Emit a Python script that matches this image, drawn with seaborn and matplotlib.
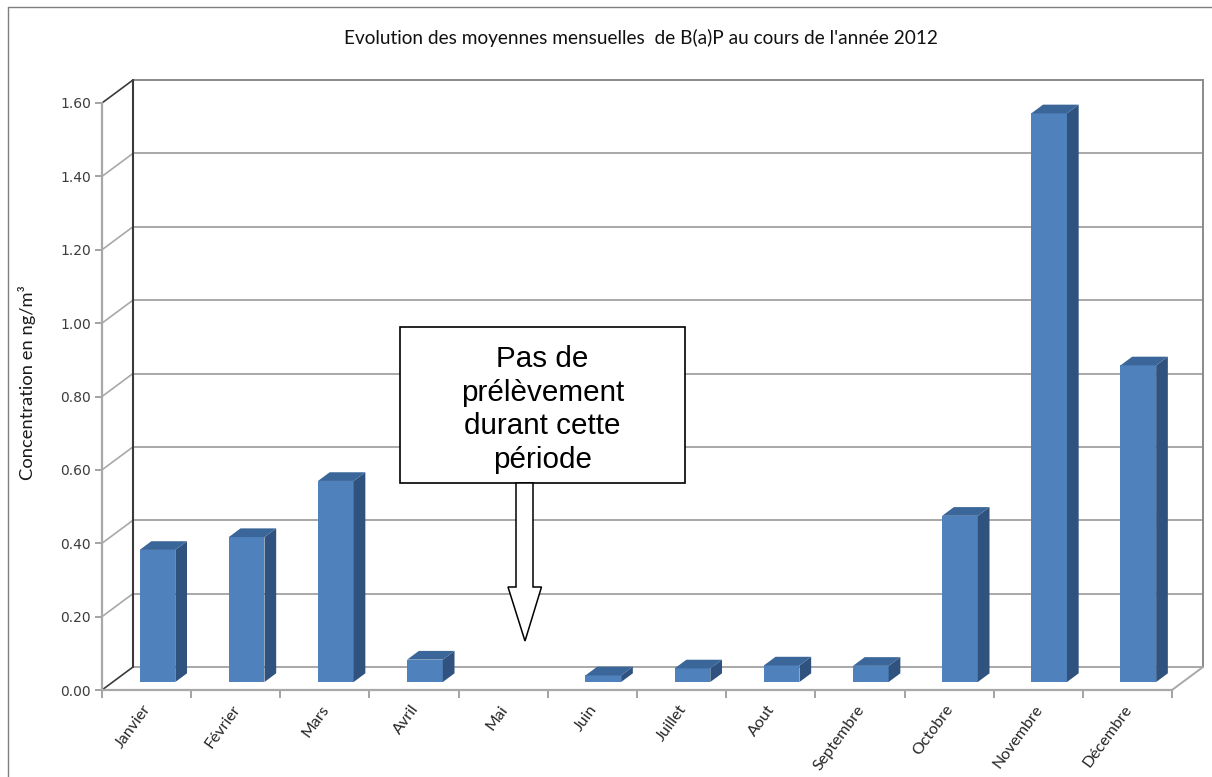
import numpy as np
import pandas as pd
import matplotlib
matplotlib.use("Agg")
import matplotlib.pyplot as plt
import matplotlib.transforms as mtrans
from matplotlib.patches import Polygon, Rectangle
import seaborn as sns

# ---------------- data ----------------
months = ["Janvier", "Février", "Mars", "Avril", "Mai", "Juin", "Juillet",
          "Aout", "Septembre", "Octobre", "Novembre", "Décembre"]
values = [0.36, 0.395, 0.548, 0.061, np.nan, 0.018, 0.037,
          0.045, 0.044, 0.453, 1.55, 0.863]
yticks = [0.0, 0.2, 0.4, 0.6, 0.8, 1.0, 1.2, 1.4, 1.6]
ytick_labels = ["0.00", "0.20", "0.40", "0.60", "0.80", "1.00", "1.20", "1.40", "1.60"]
title = "Evolution des moyennes mensuelles  de B(a)P au cours de l'année 2012"
ylabel = "Concentration en ng/m³"
note = "Pas de\nprélèvement\ndurant cette\npériode"

df = pd.DataFrame({"mois": months, "val": values}).dropna()

# ---------------- figure ----------------
sns.set_theme(style="white")
plt.rcParams["font.family"] = ["Lato", "DejaVu Sans"]

W, H, DPI = 1212, 777, 100
fig = plt.figure(figsize=(W / DPI, H / DPI), dpi=DPI)
fig.patch.set_facecolor("white")

# front plane of the 3D box: x -0.5..11.5 -> px 102..1172 ; y 0..1.6 -> px 690..103
L, R, B, T = 102, 1172, 690, 103
ax = fig.add_axes([L / W, (H - B) / H, (R - L) / W, (B - T) / H])
ax.set_facecolor("none")

PXX = (R - L) / 12.0          # px per category
PXY = (B - T) / 1.6           # px per unit

def px(dx, dy):
    return dx / PXX, dy / PXY

back_dx, back_dy = px(31, 23)      # back wall offset (data units)
dep_dx, dep_dy = px(11.7, 8.7)     # bar depth

FRONT = "#4f81bd"
TOP = "#3b6699"
SIDE = "#30527e"
GRID = "#a8a8a8"
DARK = "#3a3a3a"

sns.barplot(data=df, x="mois", y="val", order=months, color=FRONT,
            saturation=1, width=0.40, linewidth=0, ax=ax, zorder=5)

ax.set_xlim(-0.5, 11.5)
ax.set_ylim(0, 1.6)

# ---------- 3D box: walls and gridlines ----------
x0, x1 = -0.5, 11.5
for v in yticks:
    ax.plot([x0 + back_dx, x1 + back_dx], [v + back_dy, v + back_dy],
            color=("#8a8a8a" if v == 1.6 else GRID), lw=1.4, clip_on=False, zorder=1)
    ax.plot([x0, x0 + back_dx], [v, v + back_dy],
            color=(DARK if v in (0.0, 1.6) else GRID), lw=1.2, clip_on=False, zorder=1)
ax.plot([x0 + back_dx] * 2, [back_dy, 1.6 + back_dy], color=DARK, lw=1.5, clip_on=False, zorder=2)
ax.plot([x1 + back_dx] * 2, [back_dy, 1.6 + back_dy], color="#8a8a8a", lw=1.4, clip_on=False, zorder=2)
ax.plot([x1, x1 + back_dx], [0, back_dy], color=GRID, lw=1.4, clip_on=False, zorder=2)

# ---------- 3D bars ----------
shift = mtrans.ScaledTranslation(10.9 / DPI, 8 / DPI, fig.dpi_scale_trans)
btrans = ax.transData + shift
for p in list(ax.patches):
    h = p.get_height()
    if not np.isfinite(h) or h <= 0:
        p.set_visible(False)
        continue
    bx0 = p.get_x()
    bx1 = bx0 + p.get_width()
    p.set_transform(btrans)
    p.set_clip_on(False)
    side = Polygon([(bx1, 0), (bx1, h), (bx1 + dep_dx, h + dep_dy), (bx1 + dep_dx, dep_dy)],
                   closed=True, facecolor=SIDE, edgecolor="none", transform=btrans,
                   zorder=5, clip_on=False)
    top = Polygon([(bx0, h), (bx1, h), (bx1 + dep_dx, h + dep_dy), (bx0 + dep_dx, h + dep_dy)],
                  closed=True, facecolor=TOP, edgecolor="none", transform=btrans,
                  zorder=5, clip_on=False)
    ax.add_patch(side)
    ax.add_patch(top)

# ---------- axes / ticks ----------
for s in ["top", "right"]:
    ax.spines[s].set_visible(False)
for s in ["left", "bottom"]:
    ax.spines[s].set_color(GRID)
    ax.spines[s].set_linewidth(1.6)
    ax.spines[s].set_zorder(3)

ax.set_yticks(yticks)
ax.set_yticklabels(ytick_labels, fontfamily="DejaVu Sans", fontsize=10, color="#3c3c3c")
ax.tick_params(axis="y", length=5, width=1.1, color="#8a8a8a", pad=3, left=True)

ax.set_xticks(range(len(months)))
ax.set_xticklabels(months, rotation=54, ha="right", va="top", rotation_mode="anchor",
                   fontsize=11.5, color="#262626")
ax.set_xticks(np.arange(-0.5, 12.0, 1.0), minor=True)
ax.tick_params(axis="x", which="major", length=0, pad=9, bottom=True)
ax.tick_params(axis="x", which="minor", length=6, width=1.1, color="#8a8a8a", bottom=True)
for lbl in ax.get_xticklabels():
    lbl.set_transform(lbl.get_transform() + mtrans.ScaledTranslation(-4 / DPI, 0, fig.dpi_scale_trans))

ax.set_xlabel("")
ax.set_ylabel("")

def fx(xp):
    return xp / W

def fy(yp):
    return 1 - yp / H

fig.text(fx(641), fy(38), title, ha="center", va="center", fontsize=13.7, color="#111111")
fig.text(fx(27), fy(383), ylabel, ha="center", va="center", rotation=90, fontsize=13.2,
         color="#1a1a1a")

# ---------- annotation box + hollow arrow ----------
fig.patches.append(Rectangle((fx(400), fy(483)), fx(685) - fx(400), fy(327) - fy(483),
                             transform=fig.transFigure, facecolor="white", edgecolor="black",
                             lw=1.2, zorder=20))
fig.text(fx(542.5), fy(409.5), note, ha="center", va="center", fontsize=21.3,
         family="Liberation Sans", color="black", linespacing=1.25, zorder=21)
arrow_px = [(516, 483), (533, 483), (533, 587), (541.5, 587), (525, 641),
            (508, 587), (516, 587)]
fig.patches.append(Polygon([(fx(a), fy(b)) for a, b in arrow_px], closed=True,
                           transform=fig.transFigure, facecolor="white", edgecolor="black",
                           lw=1.1, zorder=20))

# outer chart frame (left and top edges visible)
fig.add_artist(plt.Line2D([fx(8), fx(8)], [fy(7), 0], transform=fig.transFigure,
                          color="#7f7f7f", lw=1.0))
fig.add_artist(plt.Line2D([fx(8), 1], [fy(7), fy(7)], transform=fig.transFigure,
                          color="#7f7f7f", lw=1.0))

fig.savefig("out.png", dpi=DPI, facecolor="white")
